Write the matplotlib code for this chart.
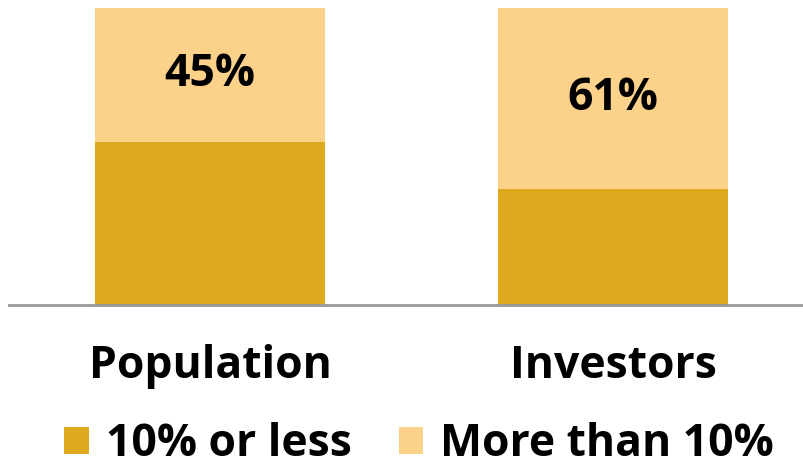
import matplotlib
matplotlib.use("Agg")
import matplotlib.pyplot as plt
import numpy as np

categories = ["Population", "Investors"]
low_share = [55, 39]      # 10% or less
high_share = [45, 61]     # more than 10%
series_names = ["10% or less", "More than 10%"]

dark_gold = "#DDA91E"
light_gold = "#FCD189"

plt.rcParams["font.family"] = ["Open Sans", "DejaVu Sans"]
plt.rcParams["font.weight"] = "bold"

fig = plt.figure(figsize=(8.04, 4.62), dpi=100)
ax = fig.add_axes([9 / 804, 1 - 305 / 462, 795 / 804, 297 / 462])

x = np.arange(len(categories))
width = 0.571
b1 = ax.bar(x, low_share, width, color=dark_gold, label=series_names[0])
b2 = ax.bar(x, high_share, width, bottom=low_share, color=light_gold, label=series_names[1])

# share label in the middle of the upper segment
for xi, lo, hi in zip(x, low_share, high_share):
    ax.text(xi, lo + hi / 2, f"{hi}%", ha="center", va="center",
            fontsize=32, fontweight="bold", color="black")

ax.set_xlim(-0.499, 1.474)
ax.set_ylim(0, 100)
ax.set_yticks([])
ax.set_xticks(x)
ax.set_xticklabels(categories, fontsize=32, fontweight="bold")
ax.tick_params(axis="x", length=0, pad=28)
for side in ["top", "right", "left"]:
    ax.spines[side].set_visible(False)
ax.spines["bottom"].set_color("#999999")
ax.spines["bottom"].set_linewidth(2)

fig.legend(handles=[b1, b2], labels=series_names, loc="lower center",
           bbox_to_anchor=(0.521, -0.098), ncol=2, frameon=False,
           fontsize=32, handlelength=0.56, handleheight=0.56,
           handletextpad=0.38, columnspacing=1.06)

fig.savefig("out.png", dpi=100)
